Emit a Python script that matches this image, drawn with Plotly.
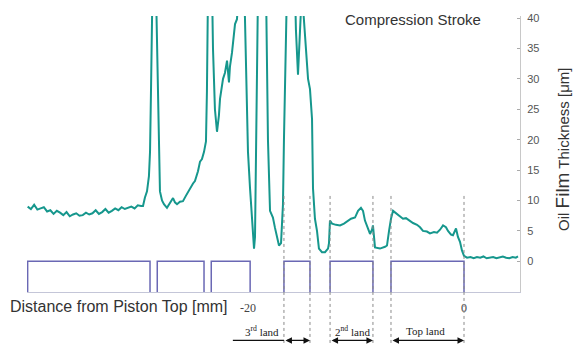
import plotly.graph_objects as go

# ---------------- data ----------------
dist_mm = [
    -40.4, -40.1, -39.8, -39.5, -39.2, -38.9, -38.6, -38.3, -38.0, -37.7, -37.4, -37.1,
    -36.8, -36.5, -36.2, -35.9, -35.6, -35.3, -35.0, -34.7, -34.4, -34.1, -33.8, -33.5,
    -33.2, -32.9, -32.6, -32.3, -32.0, -31.7, -31.4, -31.1, -30.8, -30.5, -30.2, -29.9,
    -29.72, -29.54, -29.35, -29.17, -29.07, -28.98, -28.84, -28.52, -28.38, -28.24, -28.15,
    -27.96, -27.78, -27.5, -27.22, -26.94, -26.76, -26.57, -26.3, -26.02, -25.74, -25.37,
    -25.09, -24.91, -24.63, -24.44, -24.26, -24.07, -23.89, -23.8, -23.7, -23.33, -23.24,
    -23.06, -22.87, -22.69, -22.59, -22.31, -22.13, -21.94, -21.76, -21.67, -21.48, -21.2,
    -21.02, -20.83, -20.37, -20.28, -20.09, -20.0, -19.81, -19.63, -19.44, -19.35, -19.26,
    -19.17, -19.07, -18.33, -18.24, -18.15, -17.96, -17.69, -17.5, -17.31, -17.13, -16.94,
    -16.76, -16.67, -16.53, -16.39, -15.65, -15.56, -15.37, -15.19, -15.0, -14.91, -14.72,
    -14.54, -14.44, -14.26, -14.07, -13.98, -13.8, -13.61, -13.43, -13.15, -12.87, -12.59,
    -12.5, -12.41, -12.22, -11.85, -11.48, -11.11, -10.74, -10.46, -10.09, -9.81, -9.54,
    -9.35, -9.17, -8.89, -8.7, -8.52, -8.43, -8.24, -7.78, -7.31, -7.13, -6.94, -6.76,
    -6.57, -6.2, -5.93, -5.65, -5.37, -5.0, -4.72, -4.35, -4.07, -3.8, -3.43, -3.15,
    -2.78, -2.5, -2.22, -1.94, -1.67, -1.48, -1.2, -1.02, -0.74, -0.56, -0.37, -0.19,
    0.0, 0.28, 0.6, 0.9, 1.2, 1.5, 1.8, 2.1, 2.4, 2.7, 3.0, 3.3, 3.6, 3.9, 4.2, 4.5, 4.8, 5.0,
]
film_um = [
    9.0, 8.6, 9.3, 8.5, 8.7, 8.9, 8.2, 8.4, 7.8, 8.3, 8.0, 7.6,
    8.1, 7.4, 7.7, 7.9, 7.5, 7.6, 8.0, 7.7, 7.9, 8.4, 7.8, 8.1,
    8.6, 8.0, 8.3, 8.7, 8.4, 8.9, 8.6, 8.8, 9.0, 8.7, 9.2, 9.1,
    9.1, 10.5, 11.5, 14, 18, 28, 45, 45, 30, 18, 11.5,
    10, 9.4, 8.8, 9.6, 10.4, 9.7, 9.4, 9.8, 9.9, 10.8, 12,
    12.8, 13.2, 14.8, 16.4, 16.8, 18, 19.7, 28, 45, 45, 35,
    25, 21.3, 24, 26.7, 30, 31, 33, 29.4, 32, 34.3, 39,
    39.8, 45, 45, 40, 25, 18, 12, 7, 2.1, 4, 15,
    30, 45, 45, 35, 20, 8.3, 7.2, 5.5, 4.0, 2.6, 3.0,
    9.4, 20, 35, 45, 45, 38, 30.7, 37, 45, 42, 37,
    33, 30, 28.3, 23.4, 12, 7, 5, 2.1, 1.5, 1.5, 2.1,
    3, 6.7, 6.2, 6.0, 5.9, 6.2, 6.6, 7.0, 7.2, 8.3, 8.8,
    8.3, 6.7, 5.5, 4.5, 5.2, 5.9, 2.3, 2.1, 2.4, 2.6, 5, 7,
    8.3, 7.8, 7.5, 7.0, 7.1, 6.6, 6.3, 6.0, 5.6, 5.0, 4.9, 4.6,
    4.8, 4.7, 5.2, 5.9, 5.6, 5.0, 4.4, 4.3, 5.4, 4.0, 3.2, 1.8,
    0.9, 0.6, 0.7, 0.5, 0.7, 0.6, 0.8, 0.5, 0.6, 0.7, 0.5, 0.6, 0.8, 0.6, 0.5, 0.7, 0.6, 0.8,
]

land_starts = [-40.4, -28.4, -23.4, -16.67, -12.4, -6.76]
land_ends = [-29.07, -24.07, -19.8, -14.26, -8.43, 0.0]
land_names = ["3<sup>rd</sup> land", "2<sup>nd</sup> land", "Top land"]

y_ticks = [0, 5, 10, 15, 20, 25, 30, 35, 40]
x_tickvals = [-20, 0]
x_ticktext = ["-20", "0"]

# ---------------- figure ----------------
TEAL = "#16978d"
WAVE = "#6a68b4"
GRAY = "#8a8a8a"

wave_x, wave_y = [], []
for s, e in zip(land_starts, land_ends):
    wave_x += [s, s, e, e]
    wave_y += [-6, 0, 0, -6]

fig = go.Figure()
fig.add_trace(go.Scatter(x=wave_x, y=wave_y, mode="lines",
                         line=dict(color=WAVE, width=1.5), hoverinfo="skip"))
fig.add_trace(go.Scatter(x=dist_mm, y=film_um, mode="lines",
                         line=dict(color=TEAL, width=2), hoverinfo="skip"))

fig.update_layout(
    width=576, height=344,
    margin=dict(l=27, r=56, t=13, b=52, pad=0),
    paper_bgcolor="white", plot_bgcolor="white",
    showlegend=False,
    font=dict(family="Liberation Sans, Arial, sans-serif", color="#444"),
)
fig.update_xaxes(range=[-40.46, 5.185], showgrid=False, zeroline=False,
                 showline=True, linecolor="#c4c6d8", linewidth=1,
                 tickvals=x_tickvals, ticktext=x_ticktext, ticks="",
                 tickfont=dict(family="Liberation Serif, Times New Roman, serif", size=12, color="#444"),
                 ticklabelstandoff=5)
fig.update_yaxes(range=[-5.04, 40.33], side="right", showgrid=False, zeroline=False,
                 showline=True, linecolor="#c8c8c8", linewidth=1,
                 tickvals=y_ticks, ticks="inside", ticklen=3, tickcolor="#aaa",
                 tickfont=dict(size=11, color="#555"), ticklabelstandoff=4)

# dotted land boundaries
bounds = land_starts[3:] + land_ends[3:]
for b in sorted(bounds):
    fig.add_shape(type="line", xref="x", yref="paper", x0=b, x1=b, y0=0.348, y1=-0.19,
                  line=dict(color=GRAY, width=1, dash="dot"), layer="above")

# land arrows
arrow_y = -0.1756
text_y = -0.14
for s, e in zip(land_starts[3:], land_ends[3:]):
    fig.add_annotation(x=e, y=arrow_y, ax=s, ay=0, xref="x", yref="paper",
                       axref="x", ayref="pixel", text="", showarrow=True,
                       arrowhead=2, arrowside="end+start", arrowsize=1, arrowwidth=1.3,
                       arrowcolor="#111", standoff=0, startstandoff=0)
# leader line for 3rd land label
fig.add_shape(type="line", xref="x", yref="paper", x0=-21.4, x1=land_starts[3],
              y0=arrow_y, y1=arrow_y, line=dict(color="#111", width=1.3))

label_x = [-18.7, -10.3, -3.6]
for lx, name in zip(label_x, land_names):
    fig.add_annotation(x=lx, y=text_y, xref="x", yref="paper", text=name, showarrow=False,
                       font=dict(family="Liberation Serif, Times New Roman, serif", size=11, color="#222"),
                       xanchor="center", yanchor="middle")

fig.add_annotation(x=-0.0385, y=-0.054, xref="paper", yref="paper", text="Distance from Piston Top [mm]",
                   showarrow=False, xanchor="left", yanchor="middle",
                   font=dict(size=16, color="#333"))
fig.add_annotation(x=-4.7, y=0.989, xref="x", yref="paper", text="Compression Stroke",
                   showarrow=False, xanchor="center", yanchor="middle",
                   font=dict(size=15, color="#333"))
fig.add_annotation(x=1.085, y=0.518, xref="paper", yref="paper",
                   text="Oil <span style='font-size:19px'>Film</span> Thickness [μm]",
                   textangle=-90, showarrow=False, xanchor="center", yanchor="middle",
                   font=dict(size=15, color="#333"))

fig.write_html("out.html")
